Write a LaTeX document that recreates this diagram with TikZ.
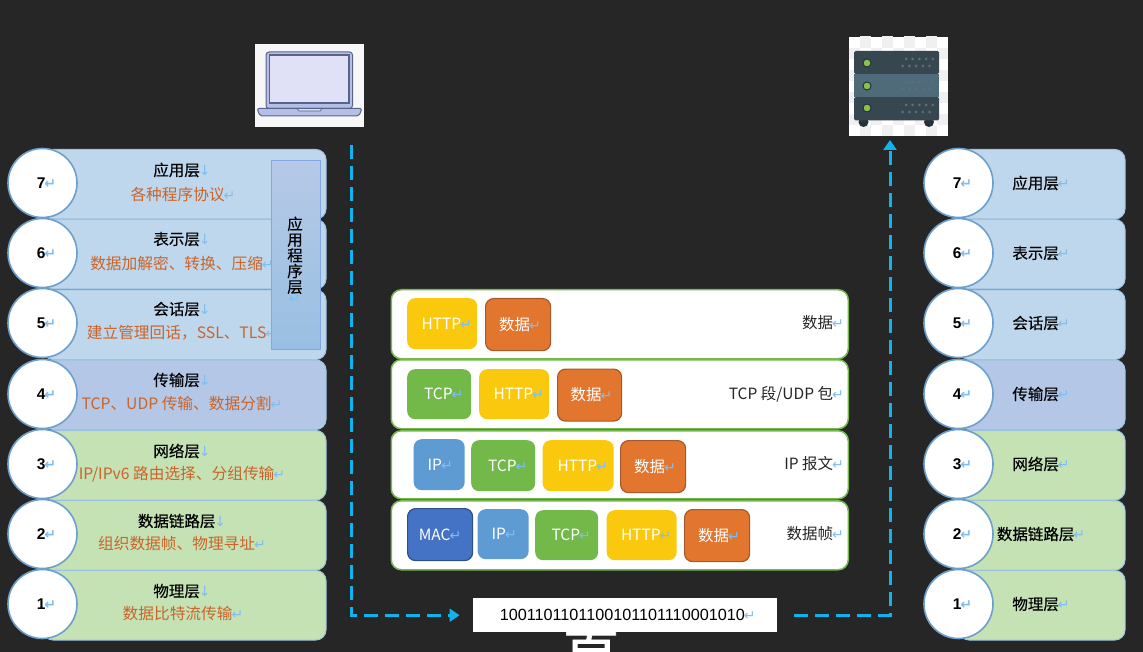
\documentclass[tikz,border=0pt]{standalone}
\usepackage{fontspec}
\setmainfont{Noto Sans CJK SC}
\newfontfamily\liber{Liberation Sans}
\newfontfamily\dejavu{DejaVu Sans}
\newfontfamily\midcjk[FakeBold=0.35]{Noto Sans CJK SC}
\newfontfamily\capcjk[FakeBold=1.2]{Noto Sans CJK SC}
\usetikzlibrary{arrows.meta,shadings}
\definecolor{bgdark}{HTML}{262626}
\definecolor{rowblue}{HTML}{BFD7EC}
\definecolor{rowpurple}{HTML}{B4C7E6}
\definecolor{rowgreen}{HTML}{C5E2B5}
\definecolor{rowedge}{HTML}{9DC3E2}
\definecolor{circedge}{HTML}{6C9FCC}
\definecolor{marku}{HTML}{7FBEF2}
\definecolor{orangetxt}{HTML}{C8652B}
\definecolor{cyanline}{HTML}{0FB4EE}
\definecolor{chipy}{HTML}{FAC90E}
\definecolor{chipo}{HTML}{E2762F}
\definecolor{chipoe}{HTML}{A8582A}
\definecolor{chipg}{HTML}{72B94A}
\definecolor{chipb}{HTML}{5F9BD3}
\definecolor{chipm}{HTML}{4472C4}
\definecolor{chipme}{HTML}{2F4F85}
\definecolor{panelg}{HTML}{74B84E}
\definecolor{lapbody}{HTML}{B4BFE8}
\definecolor{lapscreen}{HTML}{E0E0F6}
\definecolor{lapedge}{HTML}{5A6488}
\definecolor{srvdark}{HTML}{37474F}
\definecolor{srvmid}{HTML}{4F6A78}
\definecolor{srvdot}{HTML}{5E6E7A}
\definecolor{srvled}{HTML}{8BC34A}
\definecolor{srvfoot}{HTML}{263238}
\newcommand\retm{{\dejavu\fontsize{14}{14}\selectfont\kern-1pt\textcolor{marku}{↵}}}
\newcommand\downm{{\dejavu\fontsize{14}{14}\selectfont\kern-1pt\textcolor{marku}{↓}}}
\tikzset{
  x=1pt,y=-1pt,
  rowbox/.style={draw=rowedge,line width=1pt,rounded corners=10pt,minimum height=69.5pt,minimum width=283pt,anchor=north west,inner sep=0pt},
  numcirc/.style={circle,draw=circedge,line width=1.6pt,fill=white,minimum size=69pt,inner sep=0pt,font=\liber\bfseries\fontsize{15.5}{15.5}\selectfont},
  title/.style={font=\midcjk\fontsize{15.5}{15.5}\selectfont,inner sep=0pt,text=black},
  sub/.style={font=\fontsize{15.7}{15.7}\selectfont,inner sep=0pt,text=orangetxt},
  panel/.style={draw=panelg,line width=1.5pt,fill=white,rounded corners=10pt,anchor=north west,inner sep=0pt,minimum width=457pt},
  chip/.style={rounded corners=8pt,anchor=north west,inner sep=0pt,text=white,font=\fontsize{15.5}{15.5}\selectfont},
  plab/.style={anchor=east,inner sep=0pt,font=\fontsize{15.5}{15.5}\selectfont,text=black!85},
  flow/.style={draw=cyanline,line width=3pt,dash pattern=on 14pt off 7pt},
  tipflow/.style={-{Triangle[length=10pt,width=13pt,fill=cyanline]}},
  picbox/.style={anchor=north west,inner sep=0pt},
  orangechip/.style={draw=chipoe,line width=1.2pt},
  macchip/.style={draw=chipme,line width=1.2pt},
}
\begin{document}
\begin{tikzpicture}
\clip (0,0) rectangle (1143,652);
\fill[bgdark] (0,0) rectangle (1143,652);
\useasboundingbox (0,0) rectangle (1143,652);

% laptop
\node[picbox,fill=black!3,minimum width=109pt,minimum height=83pt] (laptop) at (254.5,44) {};
\filldraw[fill=lapbody,draw=lapedge,line width=1pt,rounded corners=3pt] (266,108.5) -- (266,52) -- (352.5,52) -- (352.5,108.5) -- cycle;
\filldraw[fill=lapscreen,draw=lapedge,line width=1.2pt] (269.5,55) rectangle (349,103);
\filldraw[fill=lapbody,draw=lapedge,line width=1pt,rounded corners=2pt] (257,108.5) -- (362,108.5) -- (359,116) -- (260,116) -- cycle;
\filldraw[fill=lapscreen!80!lapbody,draw=lapedge,line width=.7pt] (297,108.5) -- (322,108.5) -- (320,111) -- (299,111) -- cycle;

% server
\node[picbox,fill=white,minimum width=99.5pt,minimum height=99.5pt] (server) at (848.5,36.5) {};
\begin{scope}
\clip (848.5,36.5) rectangle (948,136);
\foreach \i in {0,...,8} \foreach \j in {0,...,8} {
  \pgfmathtruncatemacro\odd{mod(\i+\j,2)}
  \ifnum\odd=1 \fill[black!6] (848.5+\i*11.05,36.5+\j*11.05) rectangle (859.55+\i*11.05,47.55+\j*11.05); \fi
}
\end{scope}
\fill[srvfoot] (863.5,122) circle (5);
\fill[srvfoot] (929,122) circle (5);
\fill[srvdark,rounded corners=1.5pt] (854,51) rectangle (939,74);
\fill[srvdark,rounded corners=1.5pt] (854,97) rectangle (939,120.5);
\fill[srvmid] (854,74) rectangle (939,97);
\foreach \y in {59,82,105} {
  \foreach \k in {0,...,4} {
    \fill[srvdot] (906+\k*6.7,\y) circle (1.5);
    \fill[srvdot] (902.7+\k*6.7,\y+7) circle (1.5);
  }
}
\foreach \y in {63,86,108} \filldraw[fill=srvled,draw=srvfoot,line width=1pt] (867,\y) circle (4);

% stacks
\foreach \nm/\t/\c in {7/149/rowblue,6/219/rowblue,5/289.5/rowblue,4/359.5/rowpurple,3/430/rowgreen,2/500/rowgreen,1/570/rowgreen} {
  \node[rowbox,fill=\c] (L\nm) at (42.5,\t) {};
  \node[rowbox,fill=\c,minimum width=166pt] (R\nm) at (958.5,\t) {};
}
\foreach \nm/\y/\txt in {7/183/应用层,6/253/表示层,5/323/会话层,4/394/传输层,3/464/网络层,2/534/数据链路层,1/604/物理层} {
  \node[numcirc] (LC\nm) at (42.5,\y) {\hspace{8pt}\nm\retm};
  \node[numcirc] (RC\nm) at (958.5,\y) {\hspace{8pt}\nm\retm};
  \node[title] (RT\nm) at (1041,\y) {\txt\retm};
}
\node[title] (T7) at (182,170) {应用层\downm};
\node[sub] (S7) at (183,195) {各种程序协议\retm};
\node[title] (T6) at (182,239) {表示层\downm};
\node[sub] (S6) at (182,263) {数据加解密、转换、压缩\retm};
\node[title] (T5) at (182,309) {会话层\downm};
\node[sub] (S5) at (182,333) {建立管理回话，SSL、TLS\retm};
\node[title] (T4) at (182,380) {传输层\downm};
\node[sub] (S4) at (182,404) {TCP、UDP 传输、数据分割\retm};
\node[title] (T3) at (182,451) {网络层\downm};
\node[sub] (S3) at (182,474) {IP/IPv6 路由选择、分组传输\retm};
\node[title] (T2) at (182,521) {数据链路层\downm};
\node[sub] (S2) at (182,544) {组织数据帧、物理寻址\retm};
\node[title] (T1) at (182,591) {物理层\downm};
\node[sub] (S1) at (183,614) {数据比特流传输\retm};

% application bar
\node[anchor=north west,inner sep=0pt,minimum width=48.5pt,minimum height=189pt,draw=rowedge!85!blue,line width=1pt,top color=rowpurple!85!rowblue,bottom color=rowblue!60!chipb] (appbar) at (271,160) {};
\node[inner sep=0pt,align=center,font=\midcjk\fontsize{15.5}{15.7}\selectfont,text=black] (applabel) at (295,260) {应\\用\\程\\序\\层\\[-5pt]\retm};

% panels
\node[panel,minimum height=69pt] (P1) at (390.5,289) {};
\node[panel,minimum height=69pt] (P2) at (390.5,359) {};
\node[panel,minimum height=68pt] (P3) at (390.5,430) {};
\node[panel,minimum height=69pt] (P4) at (390.5,500) {};

\node[plab] (PL1) at (844,323) {数据\retm};
\node[plab] (PL2) at (844,394) {TCP 段/UDP 包\retm};
\node[plab] (PL3) at (844,464) {IP 报文\retm};
\node[plab] (PL4) at (844,534) {数据帧\retm};

% chips
\node[chip,fill=chipy,minimum width=70pt,minimum height=51pt] (a1) at (407,298) {\hspace{9pt}HTTP\retm};
\node[chip,fill=chipo,orangechip,minimum width=65pt,minimum height=52pt] (a2) at (485,298) {\hspace{4pt}数据\retm};
\node[chip,fill=chipg,minimum width=64pt,minimum height=50pt] (b1) at (407,369) {\hspace{9pt}TCP\retm};
\node[chip,fill=chipy,minimum width=70pt,minimum height=50pt] (b2) at (479,369) {\hspace{9pt}HTTP\retm};
\node[chip,fill=chipo,orangechip,minimum width=64pt,minimum height=52pt] (b3) at (557,368.5) {\hspace{4pt}数据\retm};
\node[chip,fill=chipb,minimum width=51pt,minimum height=51pt] (c1) at (413.5,439) {\hspace{2pt}IP\retm};
\node[chip,fill=chipg,minimum width=64pt,minimum height=51pt] (c2) at (471,440) {\hspace{9pt}TCP\retm};
\node[chip,fill=chipy,minimum width=71pt,minimum height=51pt] (c3) at (542.5,440) {\hspace{9pt}HTTP\retm};
\node[chip,fill=chipo,orangechip,minimum width=65pt,minimum height=52pt] (c4) at (620,440) {\hspace{4pt}数据\retm};
\node[chip,fill=chipm,macchip,minimum width=65pt,minimum height=52pt] (d1) at (407,508) {MAC\retm};
\node[chip,fill=chipb,minimum width=51pt,minimum height=50pt] (d2) at (477.5,509) {\hspace{2pt}IP\retm};
\node[chip,fill=chipg,minimum width=63pt,minimum height=50pt] (d3) at (535,510) {\hspace{9pt}TCP\retm};
\node[chip,fill=chipy,minimum width=70pt,minimum height=50pt] (d4) at (606.5,510) {\hspace{9pt}HTTP\retm};
\node[chip,fill=chipo,orangechip,minimum width=65pt,minimum height=52pt] (d5) at (684,509) {\hspace{4pt}数据\retm};

% bit stream
\node[anchor=north west,fill=white,inner sep=0pt,minimum width=304pt,minimum height=34pt,font=\liber\fontsize{16.2}{16.2}\selectfont] (bits) at (472.5,598) {\hspace{6pt}1001101101100101101110001010\retm};

% flows
\coordinate (lstart) at (351,145);
\coordinate (sstart) at (890,140);
\draw[flow,tipflow,shorten >=13pt] (lstart) |- (bits.west);
\draw[flow,tipflow,shorten <=17pt] (bits.east) -| (sstart);

% caption fragment
\node[anchor=base,inner sep=0pt,font=\capcjk\fontsize{58}{58}\selectfont,text=white] (cap) at (591,675) {直};
\end{tikzpicture}
\end{document}
